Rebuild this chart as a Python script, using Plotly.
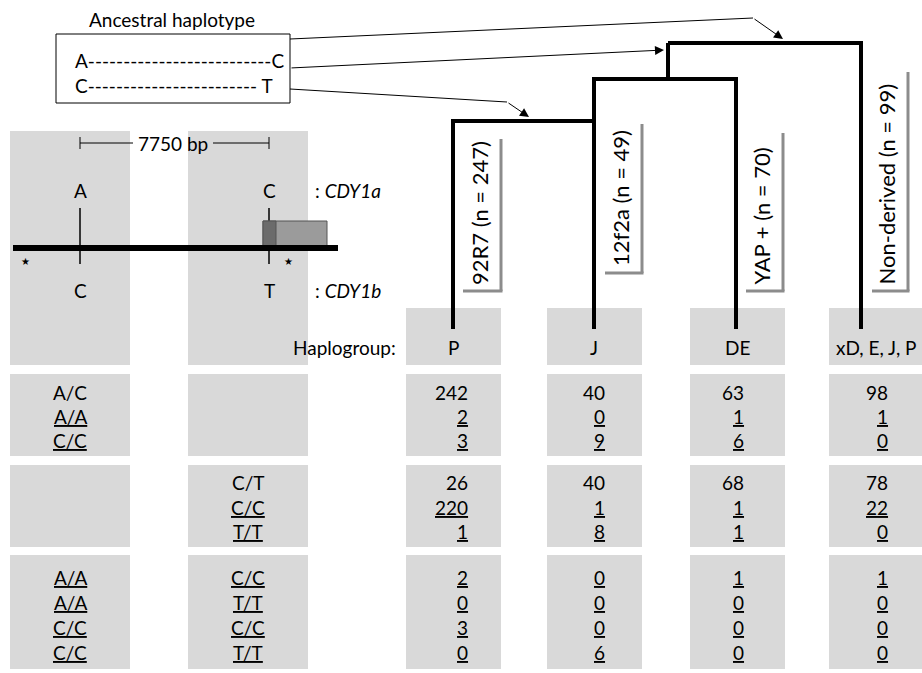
import plotly.graph_objects as go

# ---------------- data ----------------
haplogroups = ["P", "J", "DE", "xD, E, J, P"]
marker_labels = ["92R7 (n = 247)", "12f2a (n = 49)", "YAP + (n = 70)", "Non-derived (n = 99)"]

site1_genotypes = ["A/C", "A/A", "C/C"]           # CDY1 site 1 (A/C)
site2_genotypes = ["C/T", "C/C", "T/T"]           # CDY1 site 2 (C/T)
combo_site1 = ["A/A", "A/A", "C/C", "C/C"]
combo_site2 = ["C/C", "T/T", "C/C", "T/T"]

# counts per haplogroup (P, J, DE, xD E J P)
site1_counts = [[242, 2, 3], [40, 0, 9], [63, 1, 6], [98, 1, 0]]
site2_counts = [[26, 220, 1], [40, 1, 8], [68, 1, 1], [78, 22, 0]]
combo_counts = [[2, 0, 3, 0], [0, 0, 0, 6], [1, 0, 0, 0], [1, 0, 0, 0]]

# ---------------- layout constants ----------------
W, H = 922, 673
FONT = "Lato"
FS = 19
FS_ROT = 22
GRAY = "#d9d9d9"
BRACKET = "#8c8c8c"

col_cells = [(406, 501), (547, 642), (690, 785), (829, 924)]
num_right = [470, 607, 746, 890]
left_cols = [(10, 130), (188, 308)]
row_hap = (308, 365)
row1 = (374, 456)
row2 = (465, 547)
row3 = (555, 669)
row1_y = [392, 416, 440]
row2_y = [482, 507, 531]
row3_y = [577, 602, 627, 652]

fig = go.Figure()
fig.add_trace(go.Scatter(x=[0, W], y=[0, H], mode="markers",
                         marker=dict(opacity=0), hoverinfo="skip", showlegend=False))

shapes = []
annots = []


def rect(x0, y0, x1, y1, fill, line_color=None, lw=0, layer="below"):
    shapes.append(dict(type="rect", x0=x0, y0=y0, x1=x1, y1=y1, xref="x", yref="y",
                       fillcolor=fill, layer=layer,
                       line=dict(width=lw, color=line_color or fill)))


def line(x0, y0, x1, y1, color="black", w=1):
    shapes.append(dict(type="line", x0=x0, y0=y0, x1=x1, y1=y1, xref="x", yref="y",
                       line=dict(color=color, width=w)))


def text(x, y, s, xa="center", ya="middle", size=FS, angle=0, color="black"):
    annots.append(dict(x=x, y=y, xref="x", yref="y", text=s, showarrow=False,
                       xanchor=xa, yanchor=ya, textangle=angle,
                       font=dict(family=FONT, size=size, color=color)))


def arrow(x0, y0, x1, y1):
    annots.append(dict(x=x1, y=y1, ax=x0, ay=y0, xref="x", yref="y", axref="x", ayref="y",
                       text="", showarrow=True, arrowhead=2, arrowsize=1.8, arrowwidth=1,
                       arrowcolor="black", standoff=0))


# ---------------- gray backgrounds ----------------
for (x0, x1) in left_cols:
    rect(x0, 131, x1, row_hap[1], GRAY)
    for r in (row1, row2, row3):
        rect(x0, r[0], x1, r[1], GRAY)
for (x0, x1) in col_cells:
    for r in (row_hap, row1, row2, row3):
        rect(x0, r[0], x1, r[1], GRAY)

# ---------------- ancestral haplotype box ----------------
text(172, 19, "Ancestral haplotype")
rect(56, 34, 290, 103, "white", "black", 1, layer="above")
text(73, 60, "A" + "-" * 26 + "C", xa="left")
text(73, 85, "C" + "-" * 24 + " T", xa="left")

# arrows from the box to the tree
line(290, 39, 753, 18)
arrow(753, 18, 783, 39)
arrow(290, 68, 664, 50)
line(290, 89, 507, 102)
arrow(507, 102, 529, 117)

# ---------------- gene diagram ----------------
line(80, 143, 133, 143)
line(213, 143, 269, 143)
line(80, 137, 80, 149)
line(269, 137, 269, 149)
text(173, 143, "7750 bp")
text(80, 190, "A")
text(269, 190, "C")
text(313, 190, ": <i>CDY1a</i>", xa="left")
text(80, 290, "C")
text(269, 290, "T")
text(313, 290, ": <i>CDY1b</i>", xa="left")
line(80, 208, 80, 264, w=1.5)
line(269, 208, 269, 264, w=1.5)
rect(263, 221, 327, 247, "#9b9b9b", "#555555", 1, layer="above")
rect(263, 221, 276, 247, "#6b6b6b", "#555555", 1, layer="above")
line(13, 248, 338, 248, w=6)
text(25, 261, "★", size=10)
text(288, 261, "★", size=10)

# ---------------- tree ----------------
TW = 4
line(668, 43, 861, 43, w=TW)
line(668, 43, 668, 79, w=TW)
line(861, 41, 861, 329, w=TW)
line(594, 79, 736, 79, w=TW)
line(736, 77, 736, 329, w=TW)
line(594, 77, 594, 329, w=TW)
line(453, 121, 594, 121, w=TW)
line(453, 119, 453, 329, w=TW)

# marker labels with gray brackets
lab_x = [479, 620, 761, 886]
lab_bottom = [287, 268, 287, 287]
br_x = [501, 642, 783, 908]
br_left = [463, 605, 746, 872]
br_top = [139, 124, 133, 72]
br_bottom = [291, 273, 291, 291]
for i, lab in enumerate(marker_labels):
    text(lab_x[i], lab_bottom[i], lab, ya="bottom", angle=-90, size=FS_ROT)
    line(br_left[i], br_bottom[i], br_x[i] + 1.5, br_bottom[i], color=BRACKET, w=3)
    line(br_x[i], br_top[i], br_x[i], br_bottom[i], color=BRACKET, w=3)

# ---------------- haplogroup row ----------------
text(398, 347, "Haplogroup:", xa="right")
hap_cx = [453, 594, 737, 876]
for i, h in enumerate(haplogroups):
    text(hap_cx[i], 347, h)


def u(s, flag):
    return "<u>%s</u>" % s if flag else s


# left genotype columns
lc1 = (left_cols[0][0] + left_cols[0][1]) / 2
lc2 = (left_cols[1][0] + left_cols[1][1]) / 2
for j, g in enumerate(site1_genotypes):
    text(lc1, row1_y[j], u(g, j > 0))
for j, g in enumerate(site2_genotypes):
    text(lc2, row2_y[j], u(g, j > 0))
for j in range(4):
    text(lc1, row3_y[j], u(combo_site1[j], True))
    text(lc2, row3_y[j], u(combo_site2[j], True))

# counts
for i in range(4):
    for j, v in enumerate(site1_counts[i]):
        text(num_right[i], row1_y[j], u(str(v), j > 0), xa="right")
    for j, v in enumerate(site2_counts[i]):
        text(num_right[i], row2_y[j], u(str(v), j > 0), xa="right")
    for j, v in enumerate(combo_counts[i]):
        text(num_right[i], row3_y[j], u(str(v), True), xa="right")

fig.update_layout(
    width=W, height=H, margin=dict(l=0, r=0, t=0, b=0),
    paper_bgcolor="white", plot_bgcolor="white",
    xaxis=dict(range=[0, W], visible=False, fixedrange=True),
    yaxis=dict(range=[H, 0], visible=False, fixedrange=True),
    shapes=shapes, annotations=annots, showlegend=False,
)
fig.write_html("out.html", config={"displayModeBar": False},
               post_script="document.body.style.margin='0';document.body.style.overflow='hidden';")
